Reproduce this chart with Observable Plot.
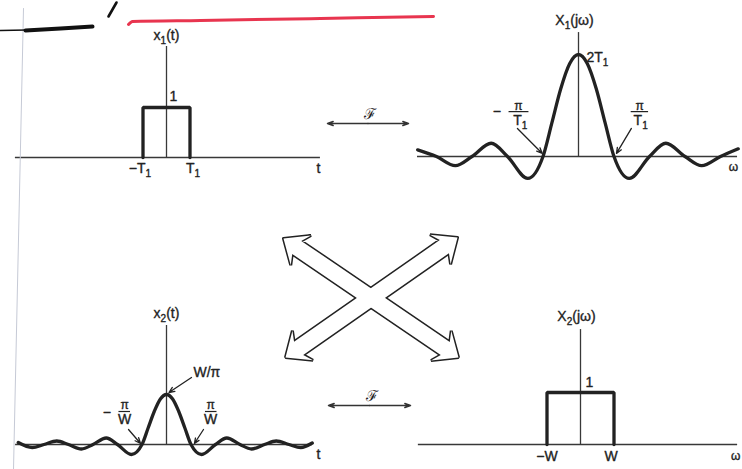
<!DOCTYPE html>
<html>
<head>
<meta charset="utf-8">
<script src="https://cdn.jsdelivr.net/npm/d3@7"></script>
<script src="https://cdn.jsdelivr.net/npm/@observablehq/plot@0.6"></script>
<style>
  body { margin: 0; background: #fff; }
  #fig { position: relative; width: 742px; height: 469px; overflow: hidden; background: #fff; }
  #fig svg { position: absolute; left: 0; top: 0; }
</style>
</head>
<body>
<div id="fig"></div>
<script>
// x1(t): rectangular pulse, t in units of T1
const pulseT = [-1, -1, 1, 1];
const pulseX = [0, 1, 1, 0];

// X1(jω) = 2 sin(ωT1)/ω, ω in units of π/T1, amplitude in units of T1
const specW = [-4.53, -4, -3.47, -3, -2.46, -2, -1.43, -1, -0.75, -0.5, -0.25, 0,
               0.25, 0.5, 0.75, 1, 1.43, 2, 2.46, 3, 3.47, 4, 4.5];
const specX = [0.13, 0, -0.18, 0, 0.26, 0, -0.43, 0, 0.66, 1.33, 1.82, 2,
               1.82, 1.33, 0.66, 0, -0.43, 0, 0.26, 0, -0.18, 0, 0.15];

// x2(t) = sin(Wt)/(πt), t in units of π/W, amplitude in units of W/π
const sincT = [-6.05, -5.48, -5, -4.48, -4, -3.47, -3, -2.46, -2, -1.43, -1, -0.75, -0.5, -0.25, 0,
               0.25, 0.5, 0.75, 1, 1.43, 2, 2.46, 3, 3.47, 4, 4.48, 5, 5.48, 5.95];
const sincX = [0.04, -0.06, 0, 0.07, 0, -0.09, 0, 0.13, 0, -0.2, 0, 0.33, 0.66, 0.91, 1,
               0.91, 0.66, 0.33, 0, -0.2, 0, 0.13, 0, -0.09, 0, 0.07, 0, -0.06, 0.03];

// X2(jω): ideal lowpass, ω in units of W
const bandW = [-1, -1, 1, 1];
const bandX = [0, 1, 1, 0];

const fig = document.getElementById("fig");
const font = "'Liberation Sans', Arial, Helvetica, sans-serif";
const ink = "#222";
const axisInk = "#383838";

const rows = (xs, ys) => xs.map((x, i) => ({x, y: ys[i]}));

// Each layer is a transparent SVG over the whole figure.
// A panel maps 0 → its origin pixel and 1 → one unit step in pixels.
function layer(scales, marks) {
  const [xs, ys] = scales;
  fig.appendChild(Plot.plot({
    width: 742, height: 469, margin: 0,
    style: {background: "transparent", fontFamily: font, overflow: "visible", color: ink},
    x: {...xs, axis: null},
    y: {...ys, axis: null},
    marks
  }));
}
const frame = (ox, sx, oy, sy) => [
  {domain: [0, 1], range: [ox, ox + sx]},
  {domain: [0, 1], range: [oy, oy - sy]}
];
const page = [{type: "identity"}, {type: "identity"}];

const label = (text, x, y, o = {}) =>
  Plot.text([{x, y, text}], {x: "x", y: "y", text: "text", fontSize: 14, fill: ink,
    stroke: ink, strokeWidth: 0.35, ...o});
const bar = (x1, x2, y) =>
  Plot.link([{x1, x2, y}], {x1: "x1", x2: "x2", y1: "y", y2: "y", stroke: ink, strokeWidth: 1.2});
const leader = (x1, y1, x2, y2) =>
  Plot.arrow([{x1, y1, x2, y2}], {x1: "x1", y1: "y1", x2: "x2", y2: "y2",
    stroke: ink, strokeWidth: 1.3, headLength: 7, headAngle: 45});
const axes = (xa, xb, top) => [
  Plot.ruleY([0], {x1: xa, x2: xb, stroke: axisInk, strokeWidth: 1.3}),
  Plot.ruleX([0], {y1: 0, y2: top, stroke: axisInk, strokeWidth: 1.3})
];
const trace = (xs, ys, o = {}) =>
  Plot.line(rows(xs, ys), {x: "x", y: "y", stroke: ink, strokeWidth: 3.3, ...o});

// x1(t)
layer(frame(166, 23.5, 157, 50), [
  ...axes(-6.43, 6.55, 2.22),
  trace(pulseT, pulseX, {strokeLinejoin: "miter"}),
  label("x₁(t)", 0, 2.22, {dy: -11}),
  label("1", 0, 1, {textAnchor: "start", dx: 3, dy: -11}),
  label("−T₁", -1, 0, {dx: -3, dy: 11}),
  label("T₁", 1, 0, {dx: 3, dy: 11}),
  label("t", 6.55, 0, {dx: -2, dy: 11})
]);

// X1(jω)
layer(frame(578, 35.5, 156, 51), [
  ...axes(-4.535, 4.48, 2.43),
  trace(specW, specX, {curve: "monotone-x"}),
  label("X₁(jω)", 0, 2.43, {dx: -4, dy: -12}),
  label("2T₁", 0, 2, {textAnchor: "start", dx: 8, dy: 3}),
  label("−", -2.3, 0.88),
  label("π", -1.69, 0.99, {fontSize: 12}),
  bar(-1.97, -1.41, 0.88),
  label("T₁", -1.64, 0.7),
  leader(-1.72, 0.55, -1.02, 0.06),
  label("π", 1.72, 0.99, {fontSize: 12}),
  bar(1.47, 1.96, 0.88),
  label("T₁", 1.75, 0.7),
  leader(1.49, 0.55, 1.07, 0.06),
  label("ω", 4.48, 0, {dx: -4, dy: 11, fontSize: 12})
]);

// x2(t)
layer(frame(166, 24.5, 444, 50), [
  ...axes(-6.16, 5.96, 2.38),
  trace(sincT, sincX, {curve: "monotone-x"}),
  label("x₂(t)", 0, 2.38, {dy: -12}),
  label("W/π", 1.1, 1.44, {textAnchor: "start"}),
  leader(1.02, 1.34, 0.1, 1.04),
  label("−", -2.43, 0.64),
  label("π", -1.71, 0.79, {fontSize: 12}),
  bar(-1.96, -1.49, 0.66),
  label("W", -1.71, 0.49),
  leader(-1.55, 0.3, -1.06, 0.02),
  label("π", 1.8, 0.79, {fontSize: 12}),
  bar(1.57, 2.04, 0.66),
  label("W", 1.8, 0.49),
  leader(1.51, 0.3, 1.14, 0.02),
  label("t", 5.96, 0, {dx: 6, dy: 10})
]);

// X2(jω)
layer(frame(580, 33.5, 444, 52), [
  ...axes(-4.84, 4.69, 2.21),
  trace(bandW, bandX, {strokeLinejoin: "miter"}),
  label("X₂(jω)", 0, 2.21, {dx: -4, dy: -13}),
  label("1", 0, 1, {textAnchor: "start", dx: 5, dy: -10}),
  label("−W", -1, 0, {dy: 12}),
  label("W", 1, 0, {dx: -3, dy: 12}),
  label("ω", 4.69, 0, {dx: -2, dy: 12, fontSize: 12})
]);

// Hollow double-headed arrow between two tips
function hollowArrow([ax, ay], [bx, by], shaft = 8, head = 18, barb = 21, neck = 16) {
  const len = Math.hypot(bx - ax, by - ay);
  const dx = (bx - ax) / len, dy = (by - ay) / len;
  const nx = -dy, ny = dx;
  const at = (px, py, along, side) => ({x: px + dx * along + nx * side, y: py + dy * along + ny * side});
  return [
    {x: ax, y: ay},
    at(ax, ay, barb, head), at(ax, ay, neck, shaft),
    at(bx, by, -neck, shaft), at(bx, by, -barb, head),
    {x: bx, y: by},
    at(bx, by, -barb, -head), at(bx, by, -neck, -shaft),
    at(ax, ay, neck, -shaft), at(ax, ay, barb, -head),
    {x: ax, y: ay}
  ];
}
const diag1 = hollowArrow([283, 238], [458, 357]);
const diag2 = hollowArrow([457, 237], [285, 357]);
const outline = (p) => Plot.line(p, {x: "x", y: "y", stroke: ink, strokeWidth: 3, fill: "white", strokeLinejoin: "miter"});
const inside = (p) => Plot.line(p, {x: "x", y: "y", stroke: "none", fill: "white"});

// Fourier-transform pair arrows
const fArrow = (xa, xb, y) => {
  const mid = (xa + xb) / 2;
  return [
    Plot.arrow([{x1: mid, x2: xa, y}, {x1: mid, x2: xb, y}], {x1: "x1", x2: "x2", y1: "y", y2: "y",
      stroke: "#333", strokeWidth: 1.5, headLength: 6, headAngle: 40}),
    Plot.text(["ℱ"], {x: mid + 2, y: y - 9, fontFamily: "'DejaVu Serif', serif",
      fontSize: 15, fill: ink})
  ];
};

layer(page, [
  outline(diag1), outline(diag2), inside(diag1), inside(diag2),
  ...fArrow(327, 408, 123),
  ...fArrow(328, 410, 405),
  // pen marks on the page
  Plot.line([{x: 23, y: 8}, {x: 13, y: 469}], {x: "x", y: "y", stroke: "#c6cad6", strokeWidth: 1}),
  Plot.line([{x: 0, y: 30}, {x: 26, y: 29.5}], {x: "x", y: "y", stroke: "#111", strokeWidth: 1.6}),
  Plot.line([{x: 25, y: 30}, {x: 60, y: 28}, {x: 92, y: 26}], {x: "x", y: "y", stroke: "#111", strokeWidth: 4, strokeLinecap: "round"}),
  Plot.line([{x: 108, y: 16}, {x: 112, y: 9}, {x: 116, y: 2}], {x: "x", y: "y", stroke: "#111", strokeWidth: 2.6, strokeLinecap: "round"}),
  Plot.line([{x: 128, y: 24}, {x: 132, y: 21}, {x: 200, y: 20}, {x: 320, y: 18}, {x: 433, y: 16}],
    {x: "x", y: "y", stroke: "#e8354f", strokeWidth: 3, strokeLinecap: "round", curve: "monotone-x"})
]);

// Typeset subscript digits as lowered, smaller tspans
const SVGNS = "http://www.w3.org/2000/svg";
const subDigits = {"₁": "1", "₂": "2"};
fig.querySelectorAll("text").forEach((t) => {
  const s = t.textContent;
  if (!/[₁₂]/.test(s)) return;
  t.textContent = "";
  let shift = 0;
  for (const part of s.split(/([₁₂])/)) {
    if (!part) continue;
    const span = document.createElementNS(SVGNS, "tspan");
    if (subDigits[part]) {
      span.textContent = subDigits[part];
      span.setAttribute("font-size", "10");
      span.setAttribute("dy", 4 - shift);
      shift = 4;
    } else {
      span.textContent = part;
      if (shift) span.setAttribute("dy", -shift);
      shift = 0;
    }
    t.appendChild(span);
  }
});
</script>
</body>
</html>
